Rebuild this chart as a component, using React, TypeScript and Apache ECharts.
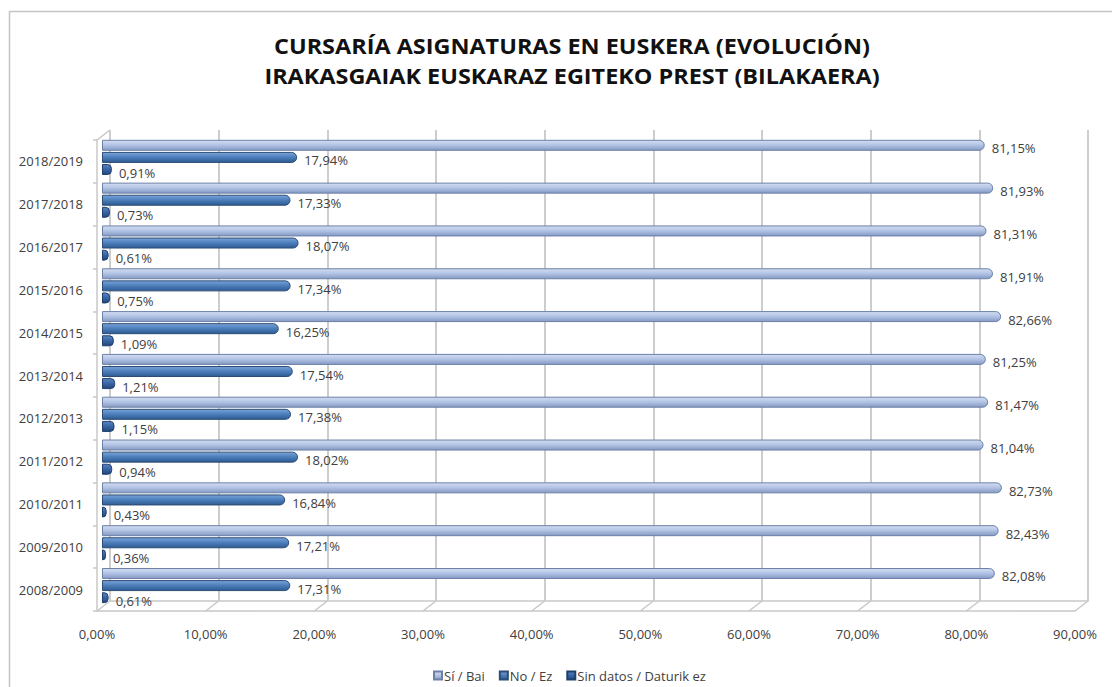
import React, { useEffect, useRef } from "react";
import * as echarts from "echarts";

const categories = [
  "2008/2009", "2009/2010", "2010/2011", "2011/2012", "2012/2013", "2013/2014",
  "2014/2015", "2015/2016", "2016/2017", "2017/2018", "2018/2019",
];
const siBai = [82.08, 82.43, 82.73, 81.04, 81.47, 81.25, 82.66, 81.91, 81.31, 81.93, 81.15];
const noEz = [17.31, 17.21, 16.84, 18.02, 17.38, 17.54, 16.25, 17.34, 18.07, 17.33, 17.94];
const sinDatos = [0.61, 0.36, 0.43, 0.94, 1.15, 1.21, 1.09, 0.75, 0.61, 0.73, 0.91];
const xTicks = [0, 10, 20, 30, 40, 50, 60, 70, 80, 90];
const seriesNames = ["Sí / Bai", "No / Ez", "Sin datos / Daturik ez"];
const titleLines = [
  "CURSARÍA ASIGNATURAS EN EUSKERA (EVOLUCIÓN)",
  "IRAKASGAIAK EUSKARAZ EGITEKO PREST (BILAKAERA)",
];

const FONT = "'Open Sans', sans-serif";
const fmt = (v: number) => v.toFixed(2).replace(".", ",") + "%";

const grad = (top: string, mid: string, bottom: string) =>
  new echarts.graphic.LinearGradient(0, 0, 0, 1, [
    { offset: 0, color: top },
    { offset: 0.45, color: mid },
    { offset: 1, color: bottom },
  ]);

export default function App() {
  const ref = useRef<HTMLDivElement>(null);
  useEffect(() => {
    if (!ref.current) return;
    const chart = echarts.init(ref.current, undefined, { renderer: "svg" });
    const label = {
      show: true,
      position: "right" as const,
      distance: 7,
      offset: [0, 3],
      fontSize: 13,
      fontFamily: FONT,
      color: "#404040",
      formatter: (p: any) => fmt(p.value),
    };
    const barCommon = {
      type: "bar" as const,
      xAxisIndex: 0,
      yAxisIndex: 0,
      barWidth: 11,
      barGap: "10%",
      label,
    };
    const titleText = (text: string, y: number) => ({
      type: "text",
      x: 572,
      y,
      scaleX: 1.065,
      silent: true,
      style: {
        text,
        align: "center",
        verticalAlign: "middle",
        fontFamily: FONT,
        fontWeight: "bold",
        fontSize: 22,
        fill: "#111111",
      },
    });
    chart.setOption({
      animation: false,
      backgroundColor: "#ffffff",
      legend: {
        data: seriesNames,
        left: 428,
        top: 664,
        icon: "rect",
        itemWidth: 8,
        itemHeight: 8,
        itemGap: 14,
        textStyle: { fontFamily: FONT, fontSize: 13, color: "#404040", padding: [0, 0, 0, -3] },
      },
      graphic: [
        {
          type: "rect",
          shape: { x: 9.5, y: 11.5, width: 1300, height: 900 },
          style: { fill: "none", stroke: "#c4c4c4", lineWidth: 1.5 },
          silent: true,
          z: -10,
        },
        titleText(titleLines[0], 46),
        titleText(titleLines[1], 76),
      ],
      grid: [
        { left: 102, right: 31, top: 136, height: 471 },
        { left: 110, right: 24, top: 130, height: 471 },
        { left: 97, right: 37, top: 140, height: 471 },
      ],
      xAxis: [
        {
          gridIndex: 0, type: "value", min: 0, max: 90, interval: 10,
          axisLabel: { show: false }, axisLine: { show: false }, axisTick: { show: false },
          splitLine: { show: false },
        },
        {
          gridIndex: 1, type: "value", min: 0, max: 90, interval: 10,
          axisLabel: { show: false },
          axisLine: { show: true, lineStyle: { color: "#c8c8c8", width: 1.5 } },
          axisTick: { show: false },
          splitLine: { show: true, lineStyle: { color: "#bdbdbd", width: 1.5 } },
        },
        {
          gridIndex: 2, type: "value", min: 0, max: 90, interval: 10,
          axisLabel: {
            show: true, formatter: (v: number) => fmt(v), fontFamily: FONT,
            fontSize: 13, color: "#404040", margin: 16,
          },
          axisLine: { show: true, lineStyle: { color: "#c8c8c8", width: 1.5 } },
          axisTick: { show: false },
          splitLine: { show: false },
        },
      ],
      yAxis: [
        {
          gridIndex: 0, type: "category", data: categories, show: false,
        },
        {
          gridIndex: 1, type: "value", min: 0, max: 1, show: false,
        },
        {
          gridIndex: 2, type: "category", data: categories,
          axisLabel: { fontFamily: FONT, fontSize: 13, color: "#404040", margin: 14 },
          axisLine: { show: true, lineStyle: { color: "#c8c8c8", width: 1.5 } },
          axisTick: { show: true, length: 4, inside: false, lineStyle: { color: "#c8c8c8", width: 1.5 } },
          splitLine: { show: false },
        },
        {
          gridIndex: 2, type: "value", min: 0, max: 1, show: false,
        },
      ],
      series: [
        {
          ...barCommon,
          name: seriesNames[0],
          data: siBai,
          itemStyle: {
            color: grad("#d3ddf0", "#b4c5e6", "#8599c2"),
            borderColor: "#6c80a8",
            borderWidth: 1,
            borderRadius: [0, 5, 5, 0],
          },
        },
        {
          ...barCommon,
          name: seriesNames[1],
          data: noEz,
          itemStyle: {
            color: grad("#7aa3da", "#4f81bd", "#2d5a92"),
            borderColor: "#2c4d75",
            borderWidth: 1,
            borderRadius: [0, 5, 5, 0],
          },
        },
        {
          ...barCommon,
          name: seriesNames[2],
          data: sinDatos,
          itemStyle: {
            color: grad("#5c86c2", "#3a67a8", "#22467c"),
            borderColor: "#1f3f6d",
            borderWidth: 1,
            borderRadius: [0, 4, 4, 0],
          },
        },
        {
          type: "custom",
          xAxisIndex: 2,
          yAxisIndex: 3,
          silent: true,
          clip: false,
          data: [...xTicks.map((v) => [v, 0]), [0, 1]],
          renderItem: (params: any, api: any) => {
            const p = api.coord([api.value(0), api.value(1)]);
            return {
              type: "line",
              shape: { x1: p[0], y1: p[1], x2: p[0] + 13, y2: p[1] - 10 },
              style: { stroke: "#c8c8c8", lineWidth: 1.5 },
            };
          },
        },
      ],
    });
    return () => chart.dispose();
  }, []);
  return (
    <div
      ref={ref}
      style={{ position: "fixed", left: 0, top: 0, width: 1112, height: 687 }}
    />
  );
}
